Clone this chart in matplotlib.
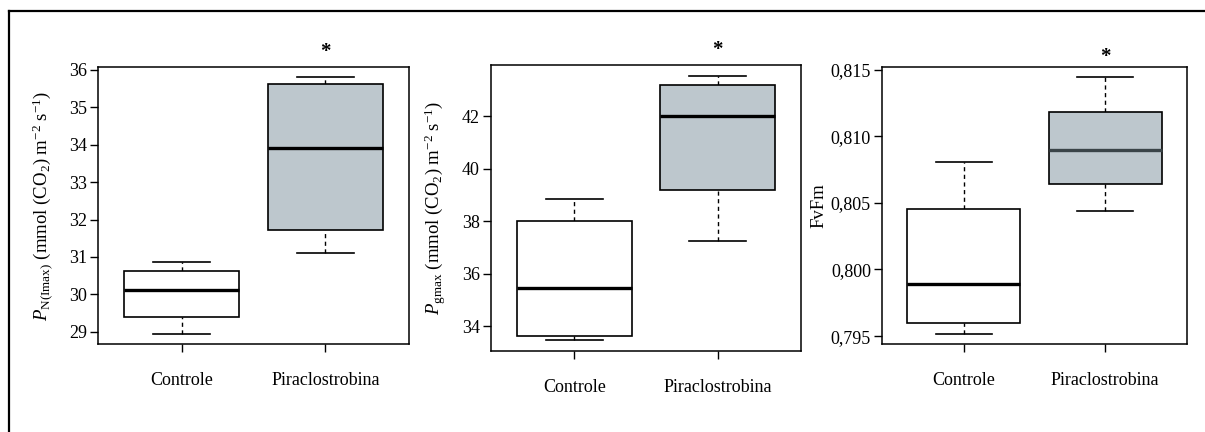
import matplotlib.pyplot as plt
from matplotlib.ticker import FuncFormatter
from matplotlib.lines import Line2D
from matplotlib.patches import Rectangle

plt.rcParams['font.family'] = ['Liberation Serif', 'DejaVu Serif']
plt.rcParams['mathtext.fontset'] = 'custom'
plt.rcParams['mathtext.rm'] = 'Liberation Serif'
plt.rcParams['mathtext.it'] = 'Liberation Serif:italic'

groups = ['Controle', 'Piraclostrobina']

# five-number summaries: lower whisker, Q1, median, Q3, upper whisker
pn_controle = [28.95, 29.40, 30.13, 30.63, 30.87]
pn_piraclo = [31.10, 31.73, 33.90, 35.62, 35.80]

pg_controle = [33.47, 33.65, 35.47, 38.03, 38.86]
pg_piraclo = [37.24, 39.20, 42.00, 43.19, 43.55]

fv_controle = [0.79518, 0.79595, 0.79888, 0.80455, 0.80803]
fv_piraclo = [0.80435, 0.80645, 0.80898, 0.81178, 0.81442]

pn_ticks = [29, 30, 31, 32, 33, 34, 35, 36]
pg_ticks = [34, 36, 38, 40, 42]
fv_ticks = [0.795, 0.800, 0.805, 0.810, 0.815]

pn_label = r'$\mathit{P}_{\mathrm{N(Imax)}}$ (mmol (CO$_2$) m$^{-2}$ s$^{-1}$)'
pg_label = r'$\mathit{P}_{\mathrm{gmax}}$ (mmol (CO$_2$) m$^{-2}$ s$^{-1}$)'
fv_label = 'FvFm'

fill_colors = ['white', '#bdc7cd']

W, H = 1205, 432
fig = plt.figure(figsize=(W / 100, H / 100), dpi=100)

# outer frame lines (top and left)
fig.add_artist(Line2D([9 / W, 1], [1 - 11 / H, 1 - 11 / H], color='black', lw=1.6))
fig.add_artist(Line2D([9 / W, 9 / W], [0, 1 - 11 / H], color='black', lw=1.6))


def px_axes(left, top, right, bottom):
    return fig.add_axes([left / W, 1 - bottom / H, (right - left) / W, (bottom - top) / H])


def draw_panel(ax, summaries, ticks, ylabel, fmt=None, med_colors=('black', 'black'),
               star_dy=15, labelpad=4):
    lo = min(s[0] for s in summaries)
    hi = max(s[4] for s in summaries)
    pad = (hi - lo) * 0.04
    for i, (s, fc, mc) in enumerate(zip(summaries, fill_colors, med_colors)):
        x = i + 1
        w = 0.8
        ax.add_patch(Rectangle((x - w / 2, s[1]), w, s[3] - s[1], facecolor=fc,
                               edgecolor='black', lw=1.2, zorder=2))
        ax.plot([x - w / 2, x + w / 2], [s[2], s[2]], color=mc, lw=2.4, zorder=3,
                solid_capstyle='butt')
        ax.plot([x, x], [s[3], s[4]], color='black', lw=1.0, ls=(0, (3, 2.5)), zorder=1)
        ax.plot([x, x], [s[0], s[1]], color='black', lw=1.0, ls=(0, (3, 2.5)), zorder=1)
        ax.plot([x - w / 4, x + w / 4], [s[4], s[4]], color='black', lw=1.2, zorder=1)
        ax.plot([x - w / 4, x + w / 4], [s[0], s[0]], color='black', lw=1.2, zorder=1)
    ax.set_xlim(0.42, 2.58)
    ax.set_ylim(lo - pad, hi + pad)
    ax.set_xticks([1, 2])
    ax.set_xticklabels(groups, fontsize=11.5)
    ax.set_yticks(ticks)
    if fmt is not None:
        ax.yaxis.set_major_formatter(fmt)
    ax.tick_params(axis='both', direction='out', length=6, width=1.0, labelsize=13)
    ax.tick_params(axis='x', pad=14)
    ax.tick_params(axis='y', pad=2)
    for sp in ax.spines.values():
        sp.set_linewidth(1.1)
    ax.set_ylabel(ylabel, fontsize=13.5, labelpad=labelpad)
    ax.annotate('*', xy=(2, 1), xycoords=('data', 'axes fraction'),
                xytext=(0, star_dy), textcoords='offset pixels',
                ha='center', va='center', fontsize=15, fontweight='bold')


ax1 = px_axes(98, 67, 409, 344)
draw_panel(ax1, [pn_controle, pn_piraclo], pn_ticks, pn_label, labelpad=10)

ax2 = px_axes(491, 65, 801, 351)
draw_panel(ax2, [pg_controle, pg_piraclo], pg_ticks, pg_label, labelpad=10)

ax3 = px_axes(882, 67, 1187, 344)
draw_panel(ax3, [fv_controle, fv_piraclo], fv_ticks, fv_label,
           fmt=FuncFormatter(lambda v, p: f'{v:.3f}'.replace('.', ',')),
           med_colors=('black', '#3a4448'), star_dy=10, labelpad=2)

fig.savefig('out.png', dpi=100)
